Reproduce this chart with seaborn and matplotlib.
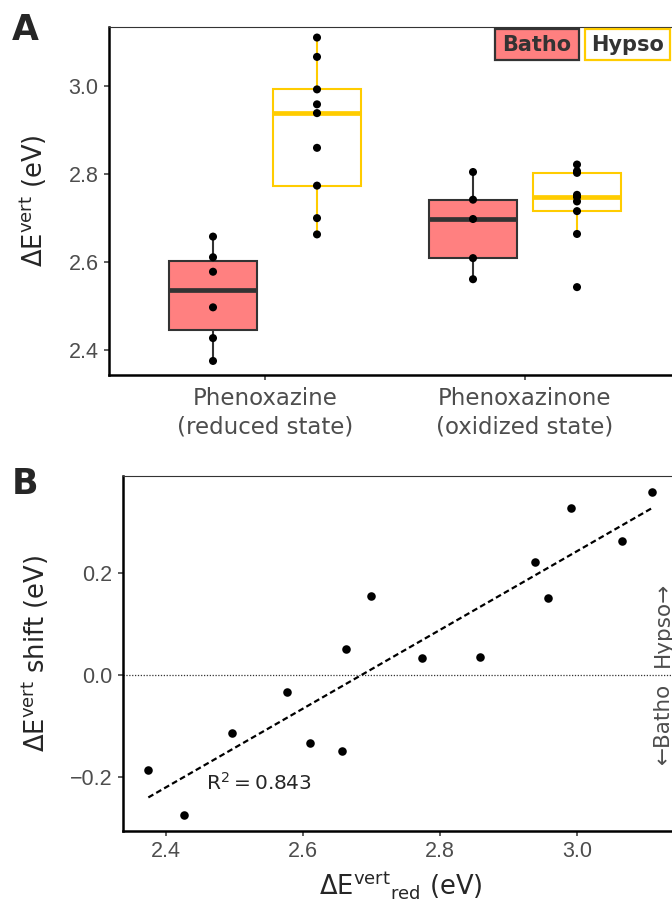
import matplotlib

matplotlib.use("Agg")
import matplotlib.pyplot as plt
import pandas as pd
import seaborn as sns
from matplotlib.patches import Rectangle

# --- Data ------------------------------------------------------------------
STATES = ["Phenoxazine\n(reduced state)", "Phenoxazinone\n(oxidized state)"]
GROUPS = ["Batho", "Hypso"]

red_batho = [2.374, 2.426, 2.496, 2.577, 2.610, 2.657]
red_hypso = [2.662, 2.699, 2.773, 2.859, 2.938, 2.958, 2.992, 3.066, 3.110]
ox_batho = [2.560, 2.608, 2.697, 2.741, 2.804]
ox_hypso = [2.542, 2.663, 2.715, 2.737, 2.747, 2.752, 2.802, 2.806, 2.821]

# vertical energy shift vs. reduced-state energy (panel B), same order as red_*
shift_batho = [-0.187, -0.274, -0.114, -0.033, -0.133, -0.150]
shift_hypso = [0.051, 0.155, 0.032, 0.035, 0.220, 0.151, 0.326, 0.262, 0.357]
R2_TEXT = "0.843"

E_TICKS = [2.4, 2.6, 2.8, 3.0]
SHIFT_TICKS = [-0.2, 0.0, 0.2]

# --- Style -------------------------------------------------------------------
FILL = {"Batho": "#FF8080", "Hypso": "#FFFFFF"}
EDGE = {"Batho": "#333333", "Hypso": "#FFCC00"}
GREY = "#4D4D4D"

sns.set_style("white")
plt.rcParams["font.family"] = ["DejaVu Sans"]
plt.rcParams["mathtext.fontset"] = "dejavusans"


def style_axes(ax):
    for side in ("left", "bottom"):
        ax.spines[side].set_linewidth(1.8)
        ax.spines[side].set_color("black")
    ax.spines["top"].set_linewidth(0.8)
    ax.spines["top"].set_color("#333333")
    ax.spines["right"].set_visible(False)
    ax.tick_params(direction="out", length=3.5, width=1.1, color="#333333",
                   labelcolor=GREY, labelsize=15.5, pad=4,
                   left=True, bottom=True)


df_a = pd.concat([
    pd.DataFrame({"state": STATES[0], "group": "Batho", "E": red_batho}),
    pd.DataFrame({"state": STATES[0], "group": "Hypso", "E": red_hypso}),
    pd.DataFrame({"state": STATES[1], "group": "Batho", "E": ox_batho}),
    pd.DataFrame({"state": STATES[1], "group": "Hypso", "E": ox_hypso}),
], ignore_index=True)

df_b = pd.DataFrame({"red": red_batho + red_hypso,
                     "shift": shift_batho + shift_hypso})

W, H = 672, 901
fig = plt.figure(figsize=(W / 100, H / 100), dpi=100)
# both panels run slightly past the right edge, as in the cropped original
ax_a = fig.add_axes([109 / W, 1 - 375 / H, (681 - 109) / W, (375 - 27) / H])
ax_b = fig.add_axes([123 / W, 1 - 831 / H, (679 - 123) / W, (831 - 476) / H])

# --- Panel A: box + points --------------------------------------------------
sns.boxplot(data=df_a, x="state", y="E", hue="group", order=STATES,
            hue_order=GROUPS, palette=FILL, saturation=1, width=0.8, gap=0.15,
            showcaps=False, showfliers=False, linewidth=1.5,
            medianprops={"linewidth": 3.4}, legend=False, ax=ax_a)
for cont, g in zip(ax_a.containers, GROUPS):
    for box in cont.boxes:
        box.set_edgecolor(EDGE[g])
    for ln in [*cont.whiskers, *cont.medians]:
        ln.set_color(EDGE[g])

sns.stripplot(data=df_a, x="state", y="E", hue="group", order=STATES,
              hue_order=GROUPS, palette=["black", "black"], dodge=True,
              jitter=False, size=5.8, linewidth=0, legend=False, ax=ax_a)

ax_a.set_xlim(-0.6, 1.6)
ax_a.set_ylim(2.342, 3.134)
ax_a.set_yticks(E_TICKS, labels=[f"{t:.1f}" for t in E_TICKS])
ax_a.set_xlabel("")
ax_a.set_ylabel(r"$\Delta\mathrm{E}^{\mathrm{vert}}$ (eV)", fontsize=18.5)
ax_a.yaxis.set_label_coords(-0.105, 0.5)
style_axes(ax_a)
ax_a.tick_params(axis="y", labelfontfamily="Liberation Sans")
ax_a.tick_params(axis="x", labelsize=16.5, pad=5)
for lab in ax_a.get_xticklabels():
    lab.set_linespacing(1.3)

# legend drawn as two labelled boxes
for g, (x0, x1) in zip(GROUPS, ((495, 579), (584.5, 670))):
    fig.add_artist(Rectangle((x0 / W, 1 - 60 / H), (x1 - x0) / W, 30.5 / H,
                             transform=fig.transFigure, facecolor=FILL[g],
                             edgecolor=EDGE[g], linewidth=1.6))
    fig.text((x0 + x1) / 2 / W, 1 - 45 / H, g, ha="center", va="center",
             fontsize=15, fontweight="bold", color="#333333")

# --- Panel B: shift vs reduced-state energy ---------------------------------
ax_b.axhline(0, color="#333333", lw=0.9, ls=(0, (1, 1.3)), zorder=0)
sns.regplot(data=df_b, x="red", y="shift", ci=None, color="black",
            scatter_kws={"s": 38, "linewidths": 0, "alpha": 1, "zorder": 3},
            line_kws={"lw": 1.6, "dashes": (2.6, 1.5)}, ax=ax_b)

ax_b.set_xlim(2.337, 3.149)
ax_b.set_ylim(-0.306, 0.389)
ax_b.set_xticks(E_TICKS, labels=[f"{t:.1f}" for t in E_TICKS])
ax_b.set_yticks(SHIFT_TICKS,
                labels=[f"{t:.1f}".replace("-", "\u2212") for t in SHIFT_TICKS])
ax_b.set_xlabel(r"$\Delta\mathrm{E}^{\mathrm{vert}}{}_{\mathrm{red}}$ (eV)",
                fontsize=18.5)
ax_b.set_ylabel(r"$\Delta\mathrm{E}^{\mathrm{vert}}$ shift (eV)", fontsize=18.5)
ax_b.xaxis.set_label_coords(0.5, -0.11)
ax_b.yaxis.set_label_coords(-0.13, 0.5)
style_axes(ax_b)
ax_b.tick_params(labelfontfamily="Liberation Sans")

ax_b.text(2.458, -0.212, r"$\mathrm{R}^2 = $" + R2_TEXT, fontsize=14.5,
          va="center", ha="left")
ax_b.text(3.126, 0.016, "Hypso\u2192", rotation=90, ha="center", va="bottom",
          fontsize=15.5, color=GREY)
ax_b.text(3.126, -0.016, "\u2190Batho", rotation=90, ha="center", va="top",
          fontsize=15.5, color=GREY)

# panel tags
fig.text(12 / W, 1 - 30 / H, "A", fontsize=25, fontweight="heavy",
         va="center", ha="left")
fig.text(12 / W, 1 - 484 / H, "B", fontsize=25, fontweight="heavy",
         va="center", ha="left")

fig.savefig("out.png", dpi=100)
